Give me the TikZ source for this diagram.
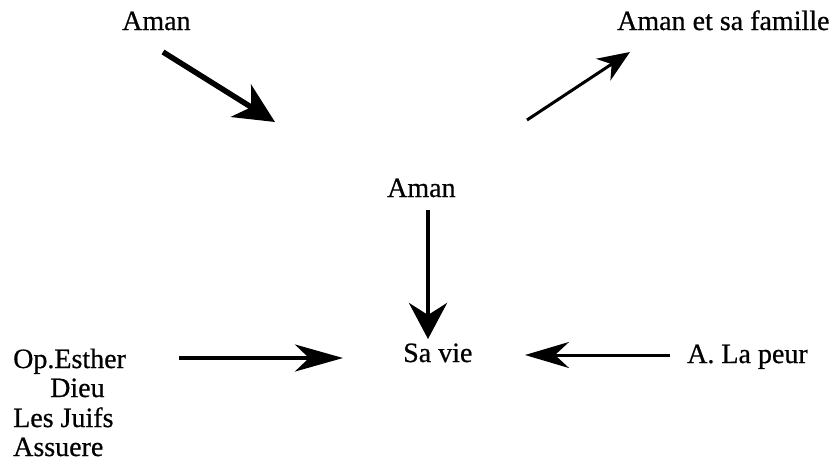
\documentclass[tikz,border=0pt]{standalone}
\usepackage{fontspec}
\setmainfont{Liberation Serif}
\newfontfamily\tnr[FakeBold=0.6]{Liberation Serif}
\usetikzlibrary{arrows.meta}
\begin{document}
\begin{tikzpicture}[x=1pt,y=-1pt,
  lbl/.style={anchor=base west,inner sep=0pt,font=\tnr\fontsize{28}{30}\selectfont},
  arr/.style={draw=black,line cap=butt}]
\path[use as bounding box,fill=white] (0,0) rectangle (830,461);
% labels
\node[lbl] (aman1) at (122,30) {Aman};
\node[lbl] (famille) at (617,30) {Aman et sa famille};
\node[lbl] (aman2) at (387,197) {Aman};
\node[lbl] (savie) at (403,362) {Sa vie};
\node[lbl] (opesther) at (13,368) {Op.Esther};
\node[lbl] (dieu) at (50,397) {Dieu};
\node[lbl] (juifs) at (13,427) {Les Juifs};
\node[lbl] (assuere) at (13,456) {Assuere};
\node[lbl] (peur) at (687,363) {A. La peur};
% arrow end points
\coordinate (a1s) at (163,52);
\coordinate (a1e) at (275,122);
\coordinate (a2s) at (527,120);
\coordinate (a2e) at (630,52);
\coordinate (a3s) at (428,210);
\coordinate (a3e) at (428,339);
\coordinate (a4s) at (179,358);
\coordinate (a4e) at (343,358);
\coordinate (a5s) at (670,355);
\coordinate (a5e) at (525,355);
% arrows
\draw[arr,line width=5.5pt,-{Stealth[length=40pt,width=38pt,inset=12pt]}] (a1s) -- (a1e);
\draw[arr,line width=3pt,-{Stealth[length=32pt,width=26pt,inset=10pt]}] (a2s) -- (a2e);
\draw[arr,line width=4.5pt,-{Stealth[length=36pt,width=38pt,inset=12pt]}] (a3s) -- (a3e);
\draw[arr,line width=3.5pt,-{Stealth[length=48pt,width=27pt,inset=14pt]}] (a4s) -- (a4e);
\draw[arr,line width=3pt,-{Stealth[length=44pt,width=26pt,inset=14pt]}] (a5s) -- (a5e);
\end{tikzpicture}
\end{document}
